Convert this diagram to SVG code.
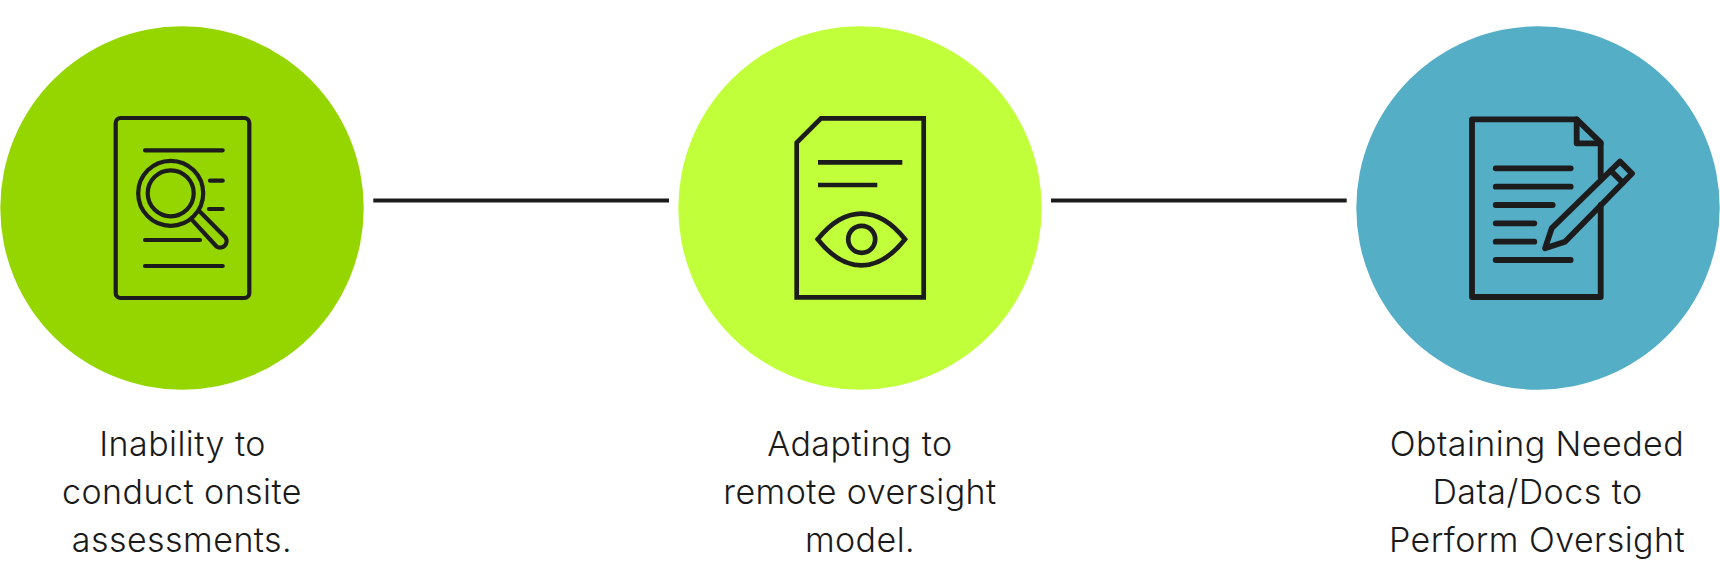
<svg xmlns="http://www.w3.org/2000/svg" width="1720" height="582" viewBox="0 0 1720 582">
<style>
.lbl{font-family:Inter,"Liberation Sans",sans-serif;font-size:34px;font-weight:300;letter-spacing:.45px;fill:#1a1a1a;text-anchor:middle}
.ic{fill:none;stroke:#1c1c1c;stroke-width:4.200;stroke-linecap:round;stroke-linejoin:round}
.ic2{fill:none;stroke:#1c1c1c;stroke-width:4.700;stroke-linejoin:miter}
.ic3{fill:none;stroke:#1c1c1c;stroke-width:5.800;stroke-linecap:round;stroke-linejoin:round}
.conn{stroke:#1c1c1c;stroke-width:4;fill:none}
</style>
<rect width="1720" height="582" fill="#fff"/>
<g id="connectors">
<line class="conn" x1="373.300" y1="200.400" x2="669" y2="200.400"/>
<line class="conn" x1="1051" y1="200.400" x2="1346.700" y2="200.400"/>
</g>
<g id="node-1">
<circle cx="182" cy="208" r="181.700" fill="#95d600"/>
<g class="ic">
<rect x="115.700" y="118" width="133.600" height="180" rx="5"/>
<path d="M145 150.300H222.700M210 180.700H222.700M209 209H222.700M145 240H200M145 266H222.700"/>
<circle cx="170.700" cy="193.300" r="32.500"/>
<circle cx="170.700" cy="193.300" r="23"/>
<path d="M200 211.700L225.500 237.500A6.500 6.500 0 0 1 216.500 246.500L192.700 220.700"/>
</g>
<text class="lbl" x="182.500" y="455.500">Inability to</text>
<text class="lbl" x="182" y="503.900">conduct onsite</text>
<text class="lbl" x="182" y="552.300">assessments.</text>
</g>
<g id="node-2">
<circle cx="860" cy="208" r="181.700" fill="#c1ff3a"/>
<g class="ic2">
<path d="M796.700 142.700L821 118.300H923.700V297.300H796.700Z"/>
<path d="M818 162.300H902.300M818 185H877.300"/>
<path d="M817.700 239.300C845 205 878 205 905 239.300C878 274 845 274 817.700 239.300Z"/>
<circle cx="861.700" cy="239.300" r="13.500"/>
</g>
<text class="lbl" x="860" y="455.500">Adapting to</text>
<text class="lbl" x="860" y="503.900">remote oversight</text>
<text class="lbl" x="860" y="552.300">model.</text>
</g>
<g id="node-3">
<circle cx="1538" cy="208" r="181.700" fill="#54aec6"/>
<g class="ic3">
<path d="M1600.700 177V142.700L1576.700 119.300H1472V297H1600.700V205"/>
<path d="M1576.700 119.300V143.300H1600.700"/>
<path d="M1495.700 168.300H1570.700M1495.700 186.700H1570.700M1495.700 205H1552.700M1495.700 223.300H1534.300M1495.700 241.700H1534.300M1495.700 260H1570.700"/>
<path d="M1545 248.300L1551.700 228.300L1620 161.500L1632 173.500L1565 241.700Z"/>
<path d="M1610.800 170.700L1622.800 182.700"/>
</g>
<text class="lbl" x="1537" y="455.500">Obtaining Needed</text>
<text class="lbl" x="1537.500" y="503.900">Data/Docs to</text>
<text class="lbl" x="1537" y="552.300">Perform Oversight</text>
</g>
</svg>
